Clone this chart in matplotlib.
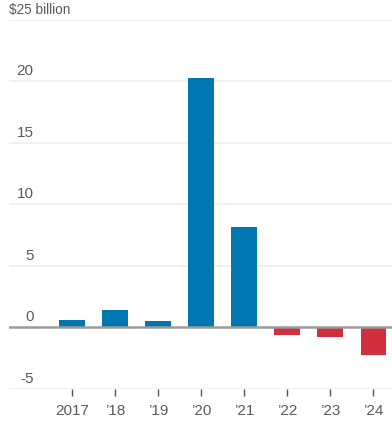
import matplotlib

matplotlib.use("Agg")
import matplotlib.pyplot as plt

plt.rcParams["font.family"] = ["Liberation Sans Narrow", "Liberation Sans", "DejaVu Sans"]

# ── Data ──────────────────────────────────────────────────────────────────────
YEARS = ["2017", "’18", "’19", "’20", "’21", "’22", "’23", "’24"]
VALUES = [0.6, 1.4, 0.5, 20.3, 8.2, -0.6, -0.75, -2.2]
Y_TICKS = [-5, 0, 5, 10, 15, 20, 25]
Y_LABELS = ["-5", "0", "5", "10", "15", "20", "$25 billion"]

# ── Palette ───────────────────────────────────────────────────────────────────
POS, NEG = "#0077b0", "#d12f3e"
TEXT, GRID, ZERO, TICK = "#5a5a5a", "#ededed", "#9a9a9a", "#555555"

fig = plt.figure(figsize=(3.92, 4.21), dpi=100)
ax = fig.add_axes([0.023, 0.076, 0.977, 0.877])

x = range(len(YEARS))
colors = [POS if v >= 0 else NEG for v in VALUES]
ax.bar(x, VALUES, width=0.6, color=colors, zorder=3)

ax.set_xlim(-1.46, 7.43)
ax.set_ylim(-5, 25)

for t in Y_TICKS:
    if t == 0:
        ax.axhline(0, color=ZERO, linewidth=1.8, zorder=4)
    else:
        ax.axhline(t, color=GRID, linewidth=1.2, zorder=1)

# labels sit just above their gridline, right-aligned; the top one is the unit label
for t, lab in zip(Y_TICKS, Y_LABELS):
    if t == 25:
        ax.text(0.0, t + 0.25, lab, transform=ax.get_yaxis_transform(),
                ha="left", va="bottom", fontsize=9.8, color=TEXT)
    else:
        ax.text(0.064, t + 0.25, lab, transform=ax.get_yaxis_transform(),
                ha="right", va="bottom", fontsize=11, color=TEXT)

ax.set_yticks([])
ax.set_xticks(list(x))
ax.set_xticklabels(YEARS, fontsize=11, color=TEXT)
ax.tick_params(axis="x", length=5, width=1, color=TICK, pad=6)
for s in ax.spines.values():
    s.set_visible(False)

fig.savefig("out.png", dpi=100, facecolor="white")
